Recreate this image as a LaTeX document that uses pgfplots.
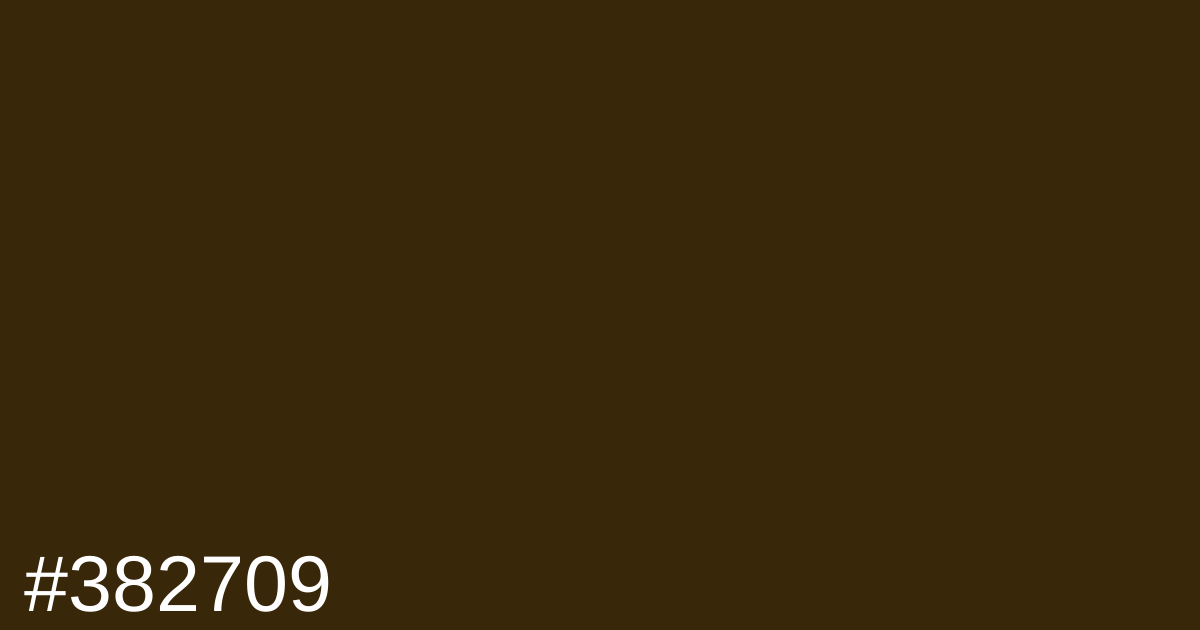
\documentclass[border=0pt]{standalone}
\usepackage{fontspec}
\setmainfont{Liberation Sans}
\usepackage{pgfplots}
\pgfplotsset{compat=1.18}
\definecolor{swatch}{HTML}{382709}

\begin{document}
\begin{tikzpicture}
\begin{axis}[
    scale only axis,
    width=12cm,
    height=6.3cm,
    xmin=0, xmax=1200,
    ymin=0, ymax=630,
    axis lines=none,
    ticks=none,
    clip=false,
    ]
    % solid swatch covering the whole canvas
    \addplot [fill=swatch, draw=none] coordinates {(0,0) (1200,0) (1200,630) (0,630)} -- cycle;
    \node [anchor=base west, inner sep=0pt, text=white, font=\fontsize{22.5}{27}\selectfont]
        at (axis cs:24,18) {\#382709};
\end{axis}
\end{tikzpicture}
\end{document}
